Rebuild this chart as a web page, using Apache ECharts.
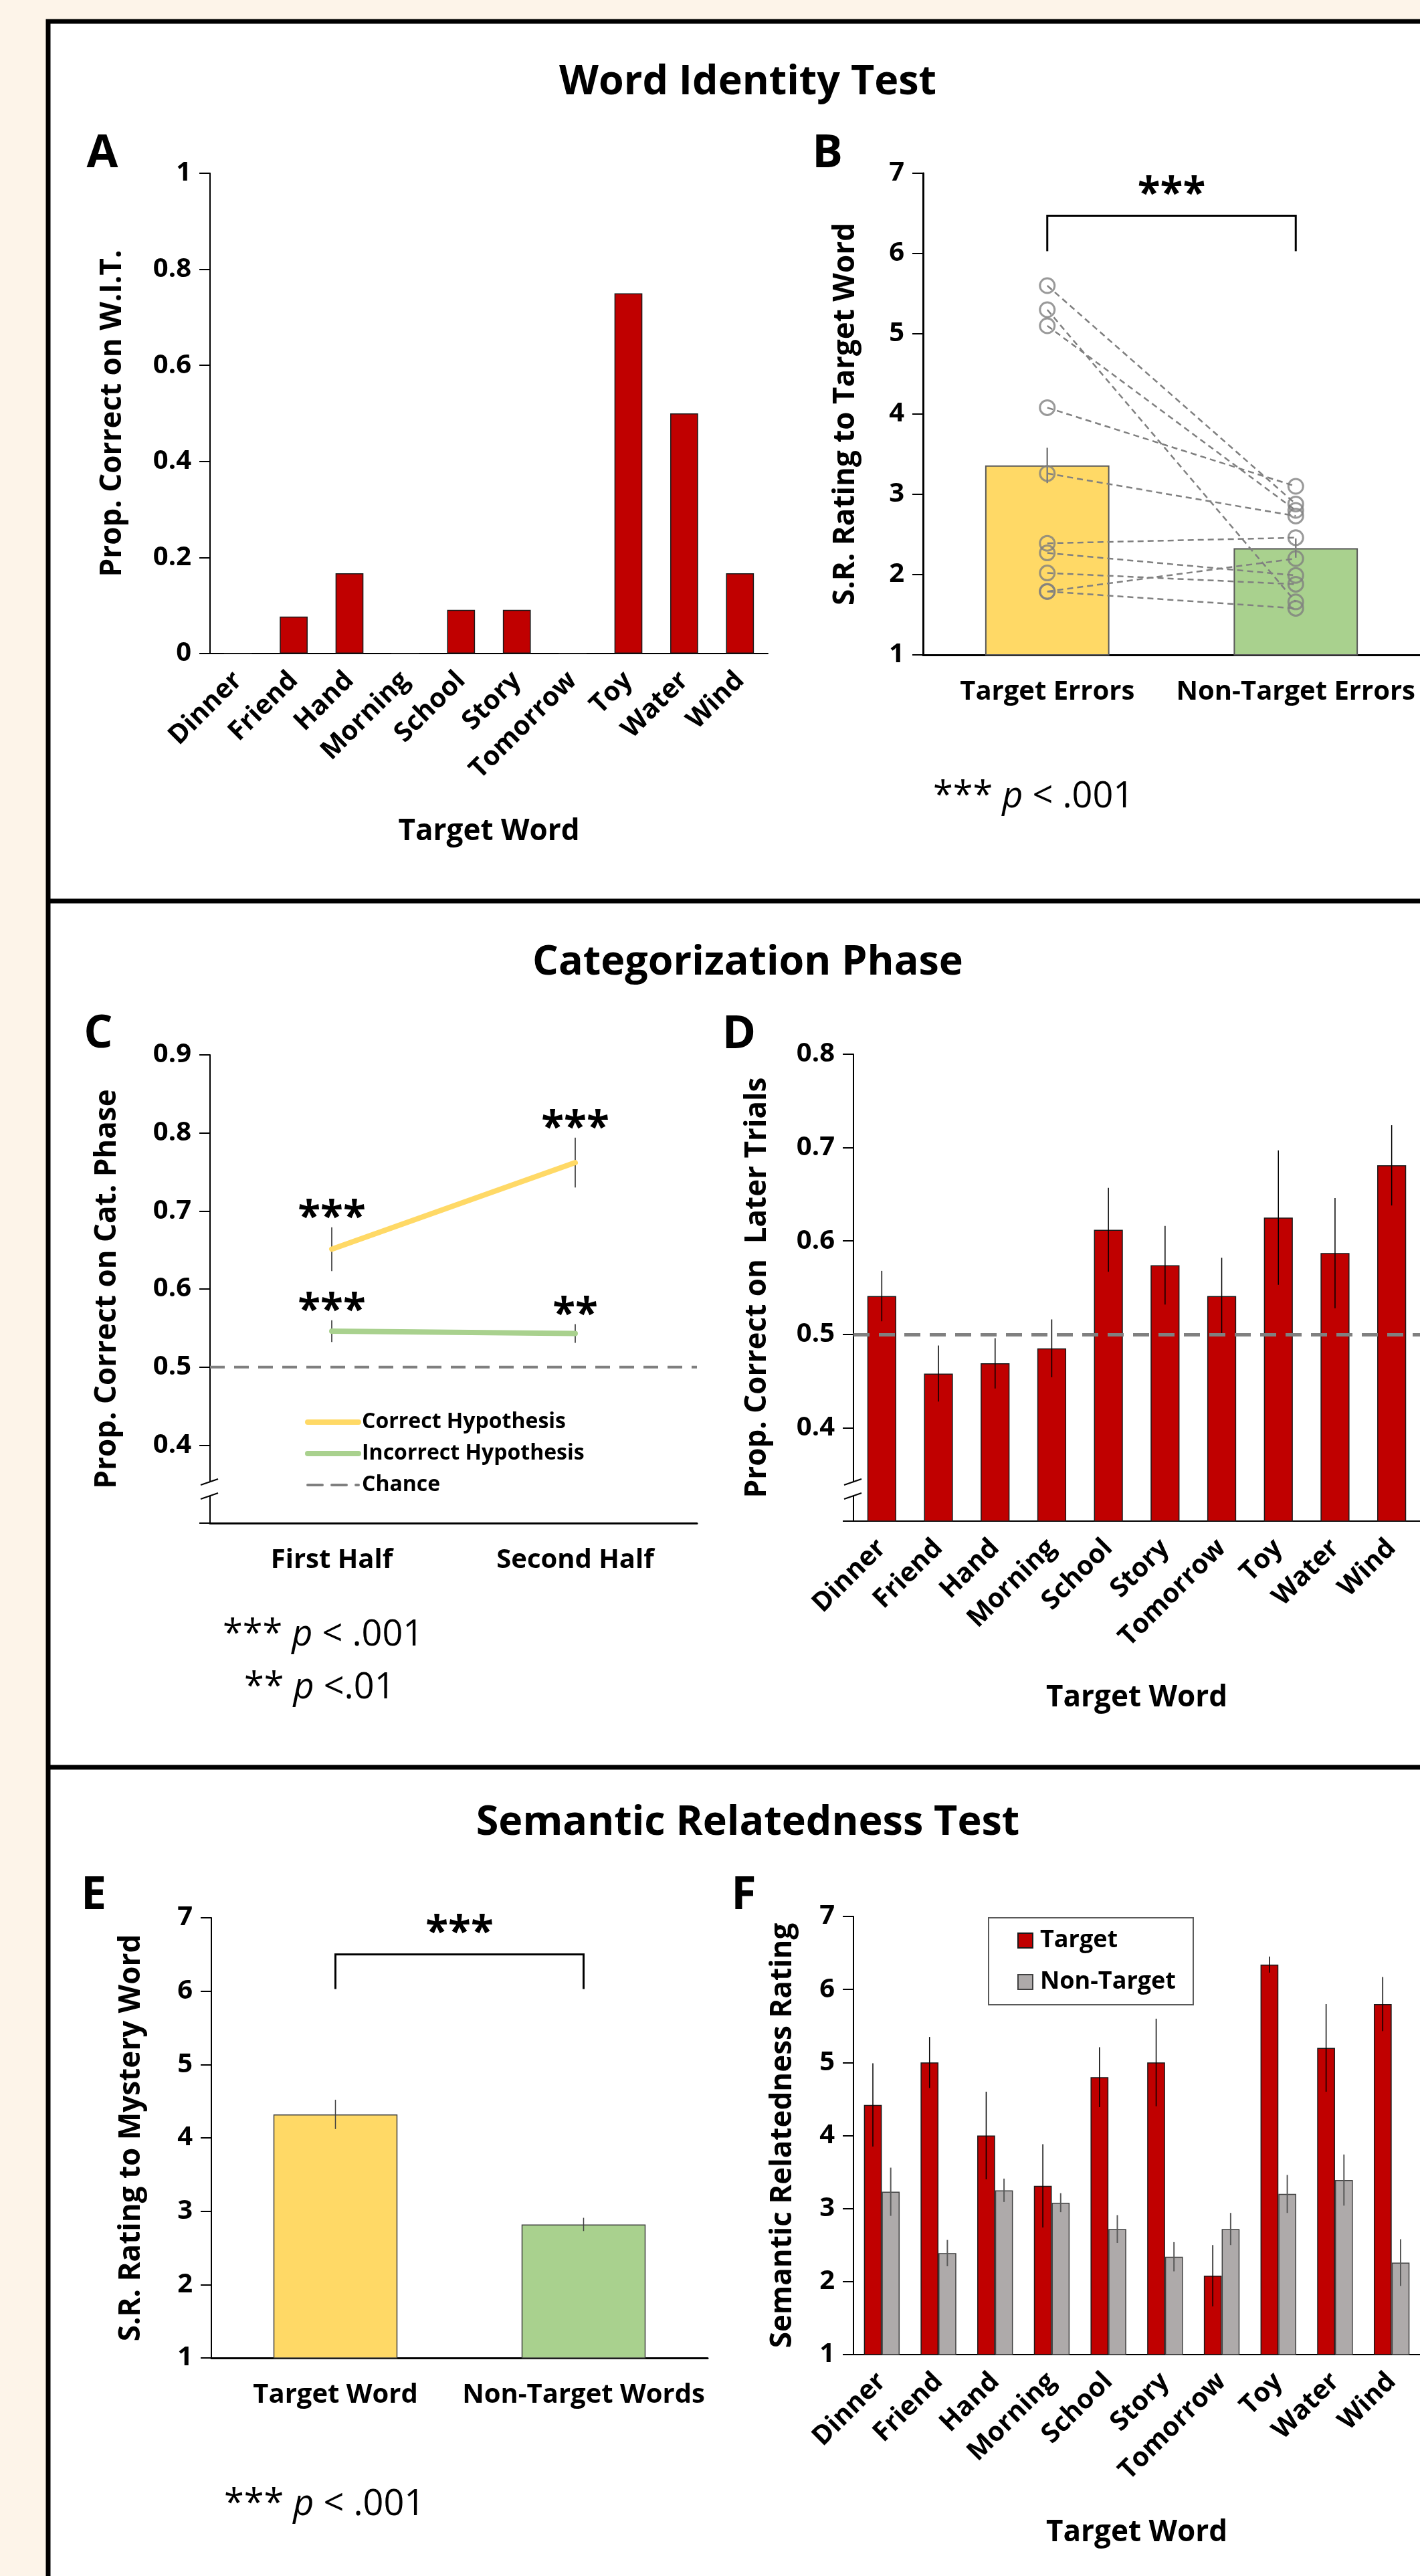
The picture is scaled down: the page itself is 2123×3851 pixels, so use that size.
<!DOCTYPE html>
<html>
<head>
<meta charset="utf-8">
<script src="https://cdn.jsdelivr.net/npm/echarts@6/dist/echarts.min.js"></script>
<style>
  html, body { margin: 0; padding: 0; background: #FDF4E9; }
  #main { width: 2123px; height: 3851px; }
</style>
</head>
<body>
<div id="main"></div>
<script>
// ---------------- DATA ----------------
const targetWords = ['Dinner', 'Friend', 'Hand', 'Morning', 'School', 'Story', 'Tomorrow', 'Toy', 'Water', 'Wind'];

// Panel A: proportion correct on Word Identity Test
const propCorrectWIT = [0, 0.077, 0.167, 0, 0.091, 0.091, 0, 0.75, 0.5, 0.167];

// Panel B: S.R. rating to target word by error type
const errorTypesB = ['Target Errors', 'Non-Target Errors'];
const meanRatingB = [3.36, 2.33];
const semRatingB = [0.22, 0.12];
const targetErrorPoints = [5.60, 5.30, 5.10, 4.08, 3.26, 2.39, 2.27, 2.02, 1.79, 1.79];
const nonTargetErrorPoints = [2.88, 1.66, 2.80, 3.10, 2.73, 2.46, 1.99, 1.88, 2.20, 1.58];

// Panel C: categorization phase halves
const halvesC = ['First Half', 'Second Half'];
const correctHyp = [0.651, 0.762];
const correctHypErr = [0.028, 0.032];
const incorrectHyp = [0.546, 0.543];
const incorrectHypErr = [0.014, 0.012];
const chanceLevel = 0.5;
const sigCorrect = ['***', '***'];
const sigIncorrect = ['***', '**'];

// Panel D: proportion correct on later trials
const propLater = [0.541, 0.458, 0.469, 0.485, 0.612, 0.574, 0.541, 0.625, 0.587, 0.681];
const propLaterErr = [0.027, 0.030, 0.027, 0.031, 0.045, 0.042, 0.041, 0.072, 0.059, 0.043];

// Panel E: S.R. rating to mystery word
const wordTypesE = ['Target Word', 'Non-Target Words'];
const meanRatingE = [4.32, 2.82];
const semRatingE = [0.20, 0.09];

// Panel F: semantic relatedness by target word
const targetRatingF = [4.42, 5.00, 4.00, 3.31, 4.80, 5.00, 2.08, 6.34, 5.20, 5.80];
const targetRatingFErr = [0.57, 0.35, 0.60, 0.57, 0.41, 0.60, 0.42, 0.11, 0.60, 0.37];
const nonTargetRatingF = [3.23, 2.39, 3.25, 3.08, 2.72, 2.34, 2.72, 3.20, 3.39, 2.26];
const nonTargetRatingFErr = [0.33, 0.18, 0.16, 0.13, 0.19, 0.20, 0.22, 0.26, 0.35, 0.32];

// Significance labels for brackets
const sigB = '***';
const sigE = '***';

// ---------------- STYLE ----------------
const FONT = 'Open Sans';
const RED = '#C00000';
const GRAY_BAR = '#AEAAAA';
const YELLOW = '#FFD966';
const GREEN = '#A9D18E';
const STAR_STYLE = { fontFamily: FONT, fontWeight: 'bold', fontSize: 62, fill: '#000', align: 'center', verticalAlign: 'middle' };

const chart = echarts.init(document.getElementById('main'), null, { renderer: 'canvas' });

function yAxisCfg(gridIndex, min, max, interval, name, nameGap, extra) {
  return Object.assign({
    type: 'value', gridIndex, min, max, interval,
    name, nameLocation: 'middle', nameGap, nameRotate: 90,
    nameTextStyle: { fontFamily: FONT, fontWeight: 'bold', fontSize: 44, color: '#000' },
    axisLine: { show: true, lineStyle: { color: '#000', width: 2 } },
    axisTick: { show: true, length: 16, lineStyle: { color: '#000', width: 2 } },
    axisLabel: { fontFamily: FONT, fontWeight: 'bold', fontSize: 40, color: '#000', margin: 28 },
    splitLine: { show: false }
  }, extra || {});
}

function catAxisCfg(gridIndex, data, rotate, name, nameGap, extra) {
  return Object.assign({
    type: 'category', gridIndex, data,
    name, nameLocation: 'middle', nameGap,
    nameTextStyle: { fontFamily: FONT, fontWeight: 'bold', fontSize: 44, color: '#000' },
    axisLine: { show: true, onZero: false, lineStyle: { color: '#000', width: 3 } },
    axisTick: { show: false },
    axisLabel: { interval: 0, rotate, fontFamily: FONT, fontWeight: 'bold', fontSize: 40, color: '#000', margin: rotate ? 34 : 36 }
  }, extra || {});
}

// error bar renderer; offsetFrac = fraction of band width from category center
function errorBar(values, errs, color, width, offsetFrac) {
  return function (params, api) {
    const i = params.dataIndex;
    const band = api.size([1, 0])[0];
    const top = api.coord([i, values[i] + errs[i]]);
    const bot = api.coord([i, values[i] - errs[i]]);
    const dx = (offsetFrac || 0) * band;
    return {
      type: 'line',
      shape: { x1: top[0] + dx, y1: top[1], x2: bot[0] + dx, y2: bot[1] },
      style: { stroke: color, lineWidth: width }
    };
  };
}

function bracketRenderer(topVal, botVal, label) {
  return function (params, api) {
    const a1 = api.coord([0, botVal]);
    const a2 = api.coord([0, topVal]);
    const b2 = api.coord([1, topVal]);
    const b1 = api.coord([1, botVal]);
    return {
      type: 'group',
      children: [
        { type: 'polyline', shape: { points: [a1, a2, b2, b1] }, style: { stroke: '#000', lineWidth: 3, fill: null } },
        { type: 'text', x: (a2[0] + b2[0]) / 2, y: a2[1] - 30,
          style: Object.assign({ text: label }, STAR_STYLE) }
      ]
    };
  };
}

function starRenderer(values, errs, labels) {
  return function (params, api) {
    const i = params.dataIndex;
    const p = api.coord([i, values[i] + errs[i]]);
    return {
      type: 'text', x: p[0], y: p[1] - 12,
      style: Object.assign({ text: labels[i] }, STAR_STYLE)
    };
  };
}

const idxData = arr => arr.map((v, i) => [i, v]);

const pText = (x, y, stars, rest) => ({
  type: 'text', x, y, z: 50,
  style: {
    text: '{n|' + stars + ' }{i|p}{n|' + rest + '}',
    verticalAlign: 'middle',
    rich: {
      n: { fontFamily: FONT, fontSize: 54, fill: '#000' },
      i: { fontFamily: FONT, fontSize: 54, fontStyle: 'italic', fill: '#000' }
    }
  }
});

const bigTitle = (text, y) => ({
  type: 'text', x: 1118, y, z: 50,
  style: { text, fontFamily: FONT, fontWeight: 'bold', fontSize: 61, fill: '#000', align: 'center', verticalAlign: 'middle' }
});
const letter = (text, x, y) => ({
  type: 'text', x, y, z: 50,
  style: { text, fontFamily: FONT, fontWeight: 'bold', fontSize: 68, fill: '#000', align: 'center', verticalAlign: 'middle' }
});

// axis break marks: drawn at a given axis x, centered at y
const axisBreak = (x, y) => ([
  { type: 'polygon', z: 40, shape: { points: [[x - 12, y - 2], [x + 12, y - 10], [x + 12, y + 10], [x - 12, y + 18]] }, style: { fill: '#fff' } },
  { type: 'line', z: 41, shape: { x1: x - 14, y1: y - 2, x2: x + 12, y2: y - 11 }, style: { stroke: '#000', lineWidth: 2 } },
  { type: 'line', z: 41, shape: { x1: x - 14, y1: y + 19, x2: x + 12, y2: y + 10 }, style: { stroke: '#000', lineWidth: 2 } }
]);

const option = {
  backgroundColor: '#FDF4E9',
  animation: false,
  textStyle: { fontFamily: FONT },
  grid: [
    { left: 314, top: 259, width: 834, height: 718 },   // A
    { left: 1380, top: 259, width: 774, height: 720 },  // B
    { left: 314, top: 1577, width: 728, height: 700 },  // C
    { left: 1276, top: 1576, width: 870, height: 698 }, // D
    { left: 316, top: 2867, width: 742, height: 658 },  // E
    { left: 1276, top: 2865, width: 870, height: 655 }  // F
  ],
  legend: [
    {
      orient: 'vertical', left: 456, top: 2109, padding: 0,
      itemWidth: 76, itemHeight: 10, itemGap: 13,
      data: ['Correct Hypothesis', 'Incorrect Hypothesis', 'Chance'],
      itemStyle: { color: 'rgba(0,0,0,0)', borderWidth: 0, borderColor: 'rgba(0,0,0,0)' },
      lineStyle: { width: 'inherit', type: 'inherit', color: 'inherit', cap: 'round' },
      textStyle: { fontFamily: FONT, fontWeight: 'bold', fontSize: 32, color: '#000', lineHeight: 34 }
    },
    {
      orient: 'vertical', left: 1478, top: 2867, padding: [14, 26, 14, 43],
      borderColor: '#595959', borderWidth: 2, backgroundColor: '#fff',
      itemWidth: 22, itemHeight: 22, itemGap: 22, icon: 'rect',
      data: ['Target', 'Non-Target'],
      textStyle: { fontFamily: FONT, fontWeight: 'bold', fontSize: 36, color: '#000', lineHeight: 40, padding: [0, 0, 0, 6] }
    }
  ],
  xAxis: [
    catAxisCfg(0, targetWords, 45, 'Target Word', 244, { axisLine: { onZero: false, lineStyle: { color: '#000', width: 2 } } }),
    catAxisCfg(1, errorTypesB, 0, '', 0),
    catAxisCfg(2, halvesC, 0, '', 0),
    { type: 'value', gridIndex: 2, min: 0, max: 1, show: false },
    catAxisCfg(3, targetWords, 45, 'Target Word', 242, { axisLine: { onZero: false, lineStyle: { color: '#000', width: 2 } } }),
    catAxisCfg(4, wordTypesE, 0, '', 0),
    catAxisCfg(5, targetWords, 45, 'Target Word', 244, { axisLine: { onZero: false, lineStyle: { color: '#000', width: 2 } } })
  ],
  yAxis: [
    yAxisCfg(0, 0, 1, 0.2, 'Prop. Correct on W.I.T.', 124),
    yAxisCfg(1, 1, 7, 1, 'S.R. Rating to Target Word', 94, { axisLine: { show: true, lineStyle: { color: '#000', width: 3 } } }),
    yAxisCfg(2, 0.3, 0.9, 0.1, 'Prop. Correct on Cat. Phase', 132, {
      axisLabel: { fontFamily: FONT, fontWeight: 'bold', fontSize: 40, color: '#000', margin: 28,
        formatter: v => (v < 0.35 ? '' : v.toFixed(1)) }
    }),
    yAxisCfg(3, 0.3, 0.8, 0.1, 'Prop. Correct on  Later Trials', 122, {
      axisLabel: { fontFamily: FONT, fontWeight: 'bold', fontSize: 40, color: '#000', margin: 28,
        formatter: v => (v < 0.35 ? '' : v.toFixed(1)) }
    }),
    yAxisCfg(4, 1, 7, 1, 'S.R. Rating to Mystery Word', 98),
    yAxisCfg(5, 1, 7, 1, 'Semantic Relatedness Rating', 84)
  ],
  series: [
    // ---- A ----
    { type: 'bar', xAxisIndex: 0, yAxisIndex: 0, data: propCorrectWIT, barWidth: '50%',
      itemStyle: { color: RED, borderColor: '#1a1a1a', borderWidth: 1.5 } },

    // ---- B ----
    { type: 'bar', xAxisIndex: 1, yAxisIndex: 1, barWidth: '50%', z: 2,
      data: meanRatingB.map((v, i) => ({ value: v, itemStyle: { color: [YELLOW, GREEN][i] } })),
      itemStyle: { borderColor: '#595959', borderWidth: 2 } },
    { type: 'custom', xAxisIndex: 1, yAxisIndex: 1, z: 3, data: idxData(meanRatingB),
      renderItem: errorBar(meanRatingB, semRatingB, '#7F7F7F', 2.5, 0) },
    { type: 'custom', xAxisIndex: 1, yAxisIndex: 1, z: 4, data: idxData(targetErrorPoints),
      renderItem: function (params, api) {
        const i = params.dataIndex;
        const p0 = api.coord([0, targetErrorPoints[i]]);
        const p1 = api.coord([1, nonTargetErrorPoints[i]]);
        return { type: 'line', shape: { x1: p0[0], y1: p0[1], x2: p1[0], y2: p1[1] },
          style: { stroke: '#808080', lineWidth: 2.5, lineDash: [9, 6] } };
      } },
    { type: 'scatter', xAxisIndex: 1, yAxisIndex: 1, z: 5, symbol: 'circle', symbolSize: 22,
      data: targetErrorPoints.map(v => [0, v]).concat(nonTargetErrorPoints.map(v => [1, v])),
      itemStyle: { color: 'rgba(0,0,0,0)', borderColor: '#7F7F7F', borderWidth: 3 } },
    { type: 'custom', xAxisIndex: 1, yAxisIndex: 1, z: 6, data: [[0, 6.47]],
      renderItem: bracketRenderer(6.47, 6.03, sigB) },

    // ---- C ----
    { name: 'Correct Hypothesis', type: 'line', xAxisIndex: 2, yAxisIndex: 2, data: correctHyp,
      symbol: 'none', z: 5, lineStyle: { color: YELLOW, width: 8, cap: 'round' }, itemStyle: { color: YELLOW } },
    { name: 'Incorrect Hypothesis', type: 'line', xAxisIndex: 2, yAxisIndex: 2, data: incorrectHyp,
      symbol: 'none', z: 5, lineStyle: { color: GREEN, width: 8, cap: 'round' }, itemStyle: { color: GREEN } },
    { name: 'Chance', type: 'line', xAxisIndex: 3, yAxisIndex: 2, data: [[0, chanceLevel], [1, chanceLevel]],
      symbol: 'none', z: 3, lineStyle: { color: '#7F7F7F', width: 4, type: [22, 14] }, itemStyle: { color: '#7F7F7F' } },
    { type: 'custom', xAxisIndex: 2, yAxisIndex: 2, z: 4, data: idxData(correctHyp),
      renderItem: errorBar(correctHyp, correctHypErr, '#595959', 2, 0) },
    { type: 'custom', xAxisIndex: 2, yAxisIndex: 2, z: 4, data: idxData(incorrectHyp),
      renderItem: errorBar(incorrectHyp, incorrectHypErr, '#595959', 2, 0) },
    { type: 'custom', xAxisIndex: 2, yAxisIndex: 2, z: 6, data: idxData(correctHyp),
      renderItem: starRenderer(correctHyp, correctHypErr, sigCorrect) },
    { type: 'custom', xAxisIndex: 2, yAxisIndex: 2, z: 6, data: idxData(incorrectHyp),
      renderItem: starRenderer(incorrectHyp, incorrectHypErr, sigIncorrect) },

    // ---- D ----
    { type: 'bar', xAxisIndex: 4, yAxisIndex: 3, data: propLater, barWidth: '51%',
      itemStyle: { color: RED, borderColor: '#1a1a1a', borderWidth: 1.5 },
      markLine: { silent: true, symbol: 'none', label: { show: false }, z: 10,
        lineStyle: { color: '#808080', width: 5, type: [24, 14] }, data: [{ yAxis: chanceLevel }] } },
    { type: 'custom', xAxisIndex: 4, yAxisIndex: 3, z: 4, data: idxData(propLater),
      renderItem: errorBar(propLater, propLaterErr, '#000', 1.5, 0) },

    // ---- E ----
    { type: 'bar', xAxisIndex: 5, yAxisIndex: 4, barWidth: '50%',
      data: meanRatingE.map((v, i) => ({ value: v, itemStyle: { color: [YELLOW, GREEN][i] } })),
      itemStyle: { borderColor: '#404040', borderWidth: 1.5 } },
    { type: 'custom', xAxisIndex: 5, yAxisIndex: 4, z: 4, data: idxData(meanRatingE),
      renderItem: errorBar(meanRatingE, semRatingE, '#404040', 1.5, 0) },
    { type: 'custom', xAxisIndex: 5, yAxisIndex: 4, z: 6, data: [[0, 6.5]],
      renderItem: bracketRenderer(6.5, 6.03, sigE) },

    // ---- F ----
    { name: 'Target', type: 'bar', xAxisIndex: 6, yAxisIndex: 5, data: targetRatingF,
      barGap: '0%', barCategoryGap: '37%',
      itemStyle: { color: RED, borderColor: '#1a1a1a', borderWidth: 1.5 } },
    { name: 'Non-Target', type: 'bar', xAxisIndex: 6, yAxisIndex: 5, data: nonTargetRatingF,
      barGap: '0%', barCategoryGap: '37%',
      itemStyle: { color: GRAY_BAR, borderColor: '#404040', borderWidth: 1.5 } },
    { type: 'custom', xAxisIndex: 6, yAxisIndex: 5, z: 4, data: idxData(targetRatingF),
      renderItem: errorBar(targetRatingF, targetRatingFErr, '#000', 1.5, -0.1575) },
    { type: 'custom', xAxisIndex: 6, yAxisIndex: 5, z: 4, data: idxData(nonTargetRatingF),
      renderItem: errorBar(nonTargetRatingF, nonTargetRatingFErr, '#595959', 2, 0.1575) }
  ],
  graphic: [
    { type: 'rect', z: -100, shape: { x: 72, y: 32, width: 2300, height: 4000 },
      style: { fill: '#fff', stroke: '#000', lineWidth: 7 } },
    { type: 'line', z: 60, shape: { x1: 72, y1: 1347, x2: 2123, y2: 1347 }, style: { stroke: '#000', lineWidth: 7 } },
    { type: 'line', z: 60, shape: { x1: 72, y1: 2642, x2: 2123, y2: 2642 }, style: { stroke: '#000', lineWidth: 7 } },
    bigTitle('Word Identity Test', 124),
    bigTitle('Categorization Phase', 1440),
    bigTitle('Semantic Relatedness Test', 2726),
    letter('A', 153, 231), letter('B', 1237, 231),
    letter('C', 147, 1547), letter('D', 1105, 1548),
    letter('E', 140, 2835), letter('F', 1112, 2835),
    pText(1395, 1192, '***', ' < .001'),
    pText(333, 2445, '***', ' < .001'),
    pText(365, 2524, '**', ' <.01'),
    pText(335, 3745, '***', ' < .001')
  ].concat(axisBreak(314, 2222), axisBreak(1276, 2222))
};

chart.setOption(option);
</script>
</body>
</html>
